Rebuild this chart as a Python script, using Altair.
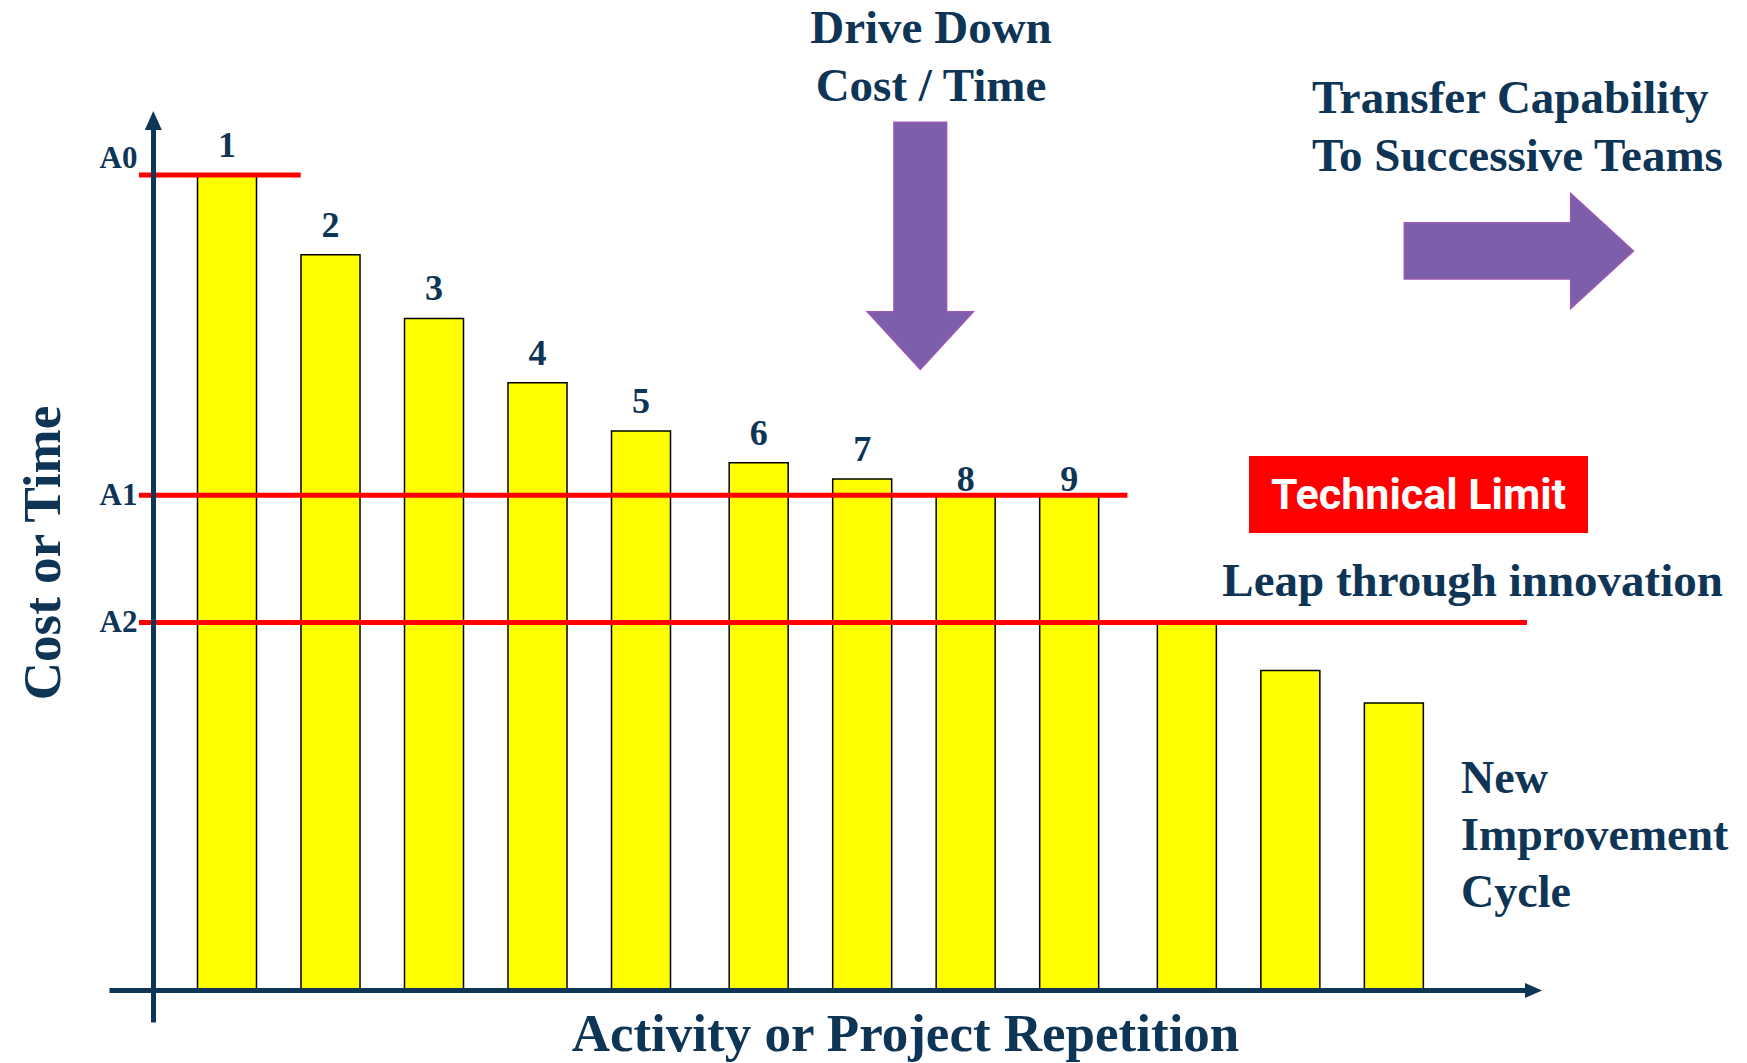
import altair as alt
import pandas as pd

# ---------------- data ----------------
reps = list(range(1, 13))
costs = [100, 90.2, 82.4, 74.5, 68.6, 64.7, 62.7, 60.7, 60.7, 45.1, 39.2, 35.2]
groups = [0, 0, 0, 0, 0, 1, 1, 1, 1, 2, 2, 2]
bar_labels = ["1", "2", "3", "4", "5", "6", "7", "8", "9", "", "", ""]

limit_names = ["A0", "A1", "A2"]
limit_values = [100, 60.7, 45.1]
limit_start = [0.15, 0.15, 0.15]
limit_end = [1.712, 9.70, 13.56]

NAVY = "#0E3456"
PURPLE = "#7C5EAB"
SERIF = "Liberation Serif"

bars_df = pd.DataFrame({"rep": reps, "cost": costs, "group": groups, "label": bar_labels})
limits_df = pd.DataFrame({"name": limit_names, "value": limit_values,
                          "start": limit_start, "end": limit_end})

xs = alt.Scale(domain=[-0.1401, 13.6087], nice=False, zero=False, padding=0)
ys = alt.Scale(domain=[-3.926, 106.13], nice=False, zero=False, padding=0)

label_expr = " : ".join(
    f"abs(datum.value - {v}) < 0.5 ? '{n}'" for n, v in zip(limit_names, limit_values)
) + " : ''"

y_axis = alt.Axis(
    values=limit_values, labelExpr=label_expr, ticks=False, grid=False,
    domainColor=NAVY, domainWidth=5, offset=-44,
    labelFont=SERIF, labelFontWeight="bold", labelFontSize=31, labelColor=NAVY,
    labelPadding=16, labelOverlap=False, labelFlush=False,
    labelBaseline={"condition": {"test": "datum.value > 90", "value": "bottom"}, "value": "middle"},
    title="Cost or Time", titleFont=SERIF, titleFontWeight="bold", titleFontSize=53,
    titleColor=NAVY, titleAngle=270, titleX=-94, titleY=427.5,
    titleBaseline="alphabetic", titleAlign="center", zindex=1,
)
x_axis = alt.Axis(
    ticks=False, labels=False, grid=False, domainColor=NAVY, domainWidth=5, offset=-32,
    title="Activity or Project Repetition", titleFont=SERIF, titleFontWeight="bold",
    titleFontSize=53, titleColor=NAVY, titleX=796, titleY=60,
    titleBaseline="alphabetic", titleAlign="center", zindex=1,
)

base = alt.Chart(bars_df).transform_calculate(xpos="datum.rep + 0.137 * datum.group")

bars = base.mark_bar(size=59, color="#FFFF00", stroke="black", strokeWidth=1.5).encode(
    x=alt.X("xpos:Q", scale=xs, axis=x_axis),
    y=alt.Y("cost:Q", scale=ys, axis=y_axis),
    y2=alt.datum(0),
)

rules = alt.Chart(limits_df).mark_rule(color="#FF0000", strokeWidth=5).encode(
    x=alt.X("start:Q", scale=xs, axis=x_axis),
    x2="end:Q",
    y=alt.Y("value:Q", scale=ys, axis=y_axis),
)

num_style = dict(font=SERIF, fontWeight="bold", fontSize=36, color=NAVY,
                 align="center", baseline="alphabetic")
nums_a = base.transform_filter("datum.label != '' && datum.rep <= 7").mark_text(
    dy=-18, **num_style).encode(
    x=alt.X("xpos:Q", scale=xs, axis=x_axis),
    y=alt.Y("cost:Q", scale=ys, axis=y_axis),
    text="label:N",
)
nums_b = base.transform_filter("datum.label != '' && datum.rep > 7").mark_text(
    dy=-4, **num_style).encode(
    x=alt.X("xpos:Q", scale=xs, axis=x_axis),
    y=alt.Y("cost:Q", scale=ys, axis=y_axis),
    text="label:N",
)

dummy = alt.Data(values=[{"a": 1}])


def note(text, x, y, align="left", size=46, line_height=58, color=NAVY, font=SERIF):
    return alt.Chart(dummy).mark_text(
        x=x, y=y, align=align, baseline="alphabetic", font=font, fontWeight="bold",
        fontSize=size, color=color, lineHeight=line_height,
    ).encode(text=alt.value(text))


def shape(path, x, y, size, fill, stroke=None, sw=0):
    kw = dict(shape=path, size=size, x=x, y=y, filled=True, fill=fill, opacity=1)
    if stroke:
        kw.update(stroke=stroke, strokeWidth=sw)
    else:
        kw.update(strokeWidth=0)
    return alt.Chart(dummy).mark_point(**kw).encode(opacity=alt.value(1))


down_arrow = shape(
    "M -0.2134 -1 L 0.2134 -1 L 0.2134 0.5336 L 0.4291 0.5336 L 0 1 L -0.4291 0.5336 L -0.2134 0.5336 Z",
    811.3, 120.8, 247 ** 2, PURPLE, "#9A5AB2", 1.5)
right_arrow = shape(
    "M -1 -0.2456 L 0.452 -0.2456 L 0.452 -0.5022 L 1 0 L 0.452 0.5022 L 0.452 0.2456 L -1 0.2456 Z",
    1409.9, 125.95, 229.2 ** 2, PURPLE, "#9A5AB2", 1.5)
y_head = shape("M 0 -1 L 0.895 1 L -0.895 1 Z", 44.3, -4.5, 361, NAVY)
x_head = shape("M 1 0 L -1 -0.88 L -1 0.88 Z", 1424.5, 865.5, 289, NAVY)

tech_box = alt.Chart(dummy).mark_rect(
    x=1140, x2=1479, y=331, y2=408, color="#FF0000").encode(opacity=alt.value(1))
tech_text = note("Technical Limit", 1309.5, 384, align="center", size=43,
                 color="white", font="Roboto")

drive = note(["Drive Down", "Cost / Time"], 822, -82, align="center", size=47, line_height=57.5)
transfer = note(["Transfer Capability", "To Successive Teams"], 1203, -12.4, size=47, line_height=58)
leap = note("Leap through innovation", 1113.3, 471.3, size=47)
cycle = note(["New", "Improvement", "Cycle"], 1352, 668, size=46, line_height=57)

chart = alt.layer(
    bars, rules, nums_a, nums_b, y_head, x_head,
    down_arrow, right_arrow, tech_box, tech_text, drive, transfer, leap, cycle,
).properties(
    width=1423, height=897,
    autosize=alt.AutoSizeParams(type="none"),
    padding={"left": 101, "top": 117, "right": 207, "bottom": 41},
    background="white",
).configure_view(stroke=None)

chart.save("out.html", embed_options={"renderer": "svg", "actions": False})
